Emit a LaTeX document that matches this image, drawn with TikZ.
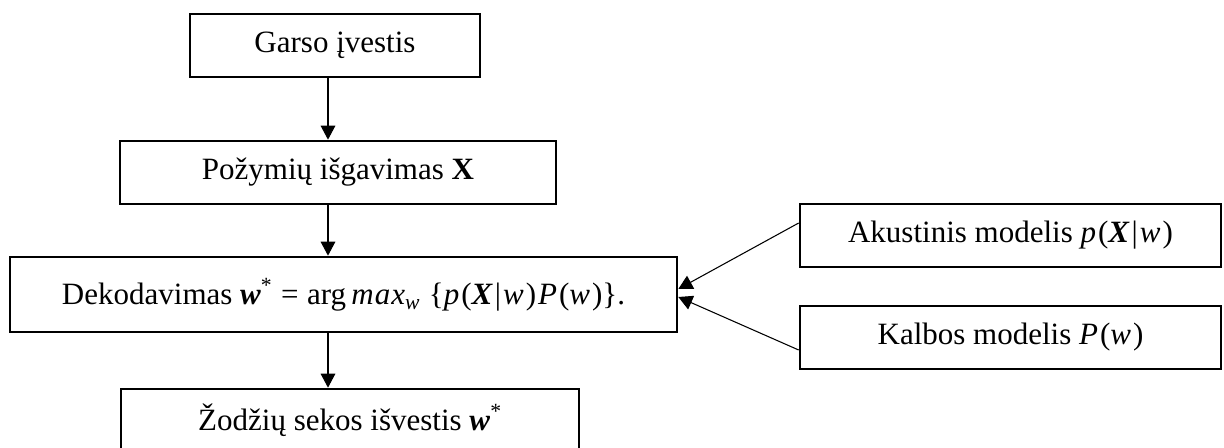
\documentclass[tikz,border=0pt]{standalone}
\usepackage{fontspec}
\setmainfont{Liberation Serif}
\usetikzlibrary{arrows.meta,calc}
\newcommand{\mi}[1]{\textit{#1}}
\newcommand{\bmi}[1]{\textbf{\textit{#1}}}
\newcommand{\mk}{\kern1.5pt}
\tikzset{
  box/.style={draw=black, line width=2pt, inner sep=0pt, fill=white,
    font=\fontsize{23.25}{28}\selectfont, anchor=center},
  conn/.style={-{Triangle[length=10.5pt,width=11pt]}, line width=0.8pt, black},
}
\begin{document}
\begin{tikzpicture}[x=0.75pt,y=-0.75pt]
\fill[white] (0,0) rectangle (1224,448);
\useasboundingbox (0,0) rectangle (1224,448);
\node[box, minimum width=290*0.75pt, minimum height=63*0.75pt] (garso) at (335,45.5) {Garso įvestis};
\node[box, minimum width=436*0.75pt, minimum height=63*0.75pt] (poz) at (338,172.5) {Požymių išgavimas \textbf{X}};
\node[box, minimum width=667*0.75pt, minimum height=75*0.75pt] (dek) at (343.5,294.5)
  {Dekodavimas \bmi{w}\textsuperscript{*}\;=\;arg\,\mi{m\kern0.8pt a\kern0.8pt x}\textsubscript{\mi{w}}\;\{\mi{p}\mk(\bmi{X}\mk|\mk\mi{w}\mk)\mk\mi{P}\mk(\mi{w}\mk)\}.};
\node[box, minimum width=458*0.75pt, minimum height=63*0.75pt] (zod) at (350,420.5) {Žodžių sekos išvestis \bmi{w}\textsuperscript{*}};
\node[box, minimum width=421*0.75pt, minimum height=63*0.75pt] (ak) at (1010.5,235.5) {Akustinis modelis \mi{p}\mk(\bmi{X}\mk|\mk\mi{w}\mk)};
\node[box, minimum width=421*0.75pt, minimum height=63*0.75pt] (kal) at (1010.5,337.5) {Kalbos modelis \mi{P}\mk(\mi{w}\mk)};
\coordinate (cx) at (328,0);
\draw[conn] (garso.south -| cx) -- (poz.north -| cx);
\draw[conn] (poz.south -| cx) -- (dek.north -| cx);
\draw[conn] (dek.south -| cx) -- (zod.north -| cx);
\draw[conn] ($(ak.west)+(0,-12.5)$) -- ($(dek.east)+(0,-5.5)$);
\draw[conn] ($(kal.west)+(0,12.5)$) -- ($(dek.east)+(0,2.5)$);
\end{tikzpicture}
\end{document}
